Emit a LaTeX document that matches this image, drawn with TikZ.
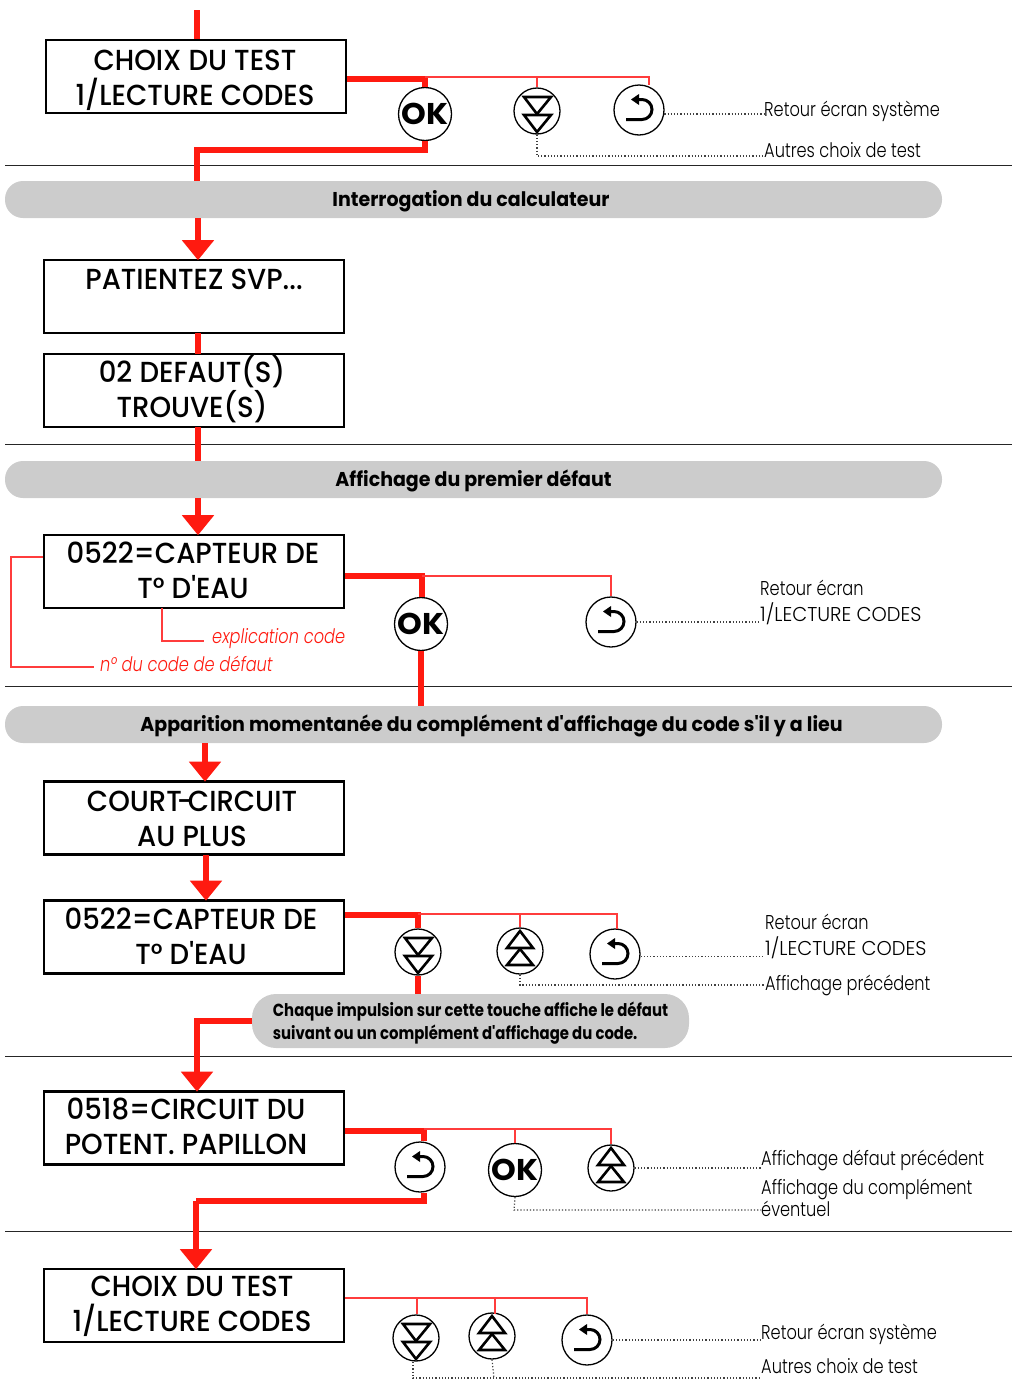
\documentclass[tikz,border=0pt]{standalone}
\usepackage{fontspec}
\setmainfont{Poppins}
\newfontfamily\ecranfont[FakeStretch=0.95,UprightFont=* Medium]{Poppins}
\newfontfamily\bandfont[FakeStretch=0.95,UprightFont=* Bold]{Poppins}
\newfontfamily\notefont[FakeStretch=0.85,UprightFont=* Bold]{Poppins}
\newfontfamily\sidefont[FakeStretch=0.81,UprightFont=* Light,ItalicFont=* Light Italic]{Poppins}
\newfontfamily\capsfont[FakeStretch=0.97,UprightFont=* Light]{Poppins}
\newfontfamily\okfont[FakeStretch=1.05,UprightFont=* Bold]{Poppins}
\usetikzlibrary{arrows.meta,calc}
\definecolor{rouge}{RGB}{255,26,16}
\definecolor{rougeclair}{RGB}{255,60,60}
\definecolor{gris}{RGB}{204,204,204}
\newcommand\DrawEcran[4]{ % name, box centre, text centre, text
  \node[ecran] (#1) at (#2) {};
  \node[ecrantext] (#1text) at (#3) {#4};
}
\newcommand\DrawOK[2]{ % name, centre
  \node[button,minimum size=53pt,font=\okfont\fontsize{30}{30}\selectfont,inner sep=0pt] (#1) at (#2) {OK};
}
\newcommand\DrawDown[2]{
  \node[button,minimum size=46pt] (#1) at (#2) {};
  \draw[glyph,shift={(#2)}] (-13,-14) -- (14,-14) -- (0,3) -- cycle;
  \draw[glyph,shift={(#2)}] (-13,4) -- (14,4) -- (0,21) -- cycle;
}
\newcommand\DrawUp[2]{
  \node[button,minimum size=46pt] (#1) at (#2) {};
  \draw[glyph,shift={(#2)}] (-13,-3) -- (13,-3) -- (0,-20) -- cycle;
  \draw[glyph,shift={(#2)}] (-13,14) -- (13,14) -- (0,-2) -- cycle;
}
\newcommand\DrawBack[2]{
  \node[button,minimum size=50pt] (#1) at (#2) {};
  \draw[glyph,line width=3pt,shift={(#2)}] (-13,9.5) -- (3,9.5) arc (90:-90:10) -- (-3,-10.5);
  \fill[shift={(#2)}] (-8,-10.5) -- (0,-16) -- (0,-5) -- cycle;
}
\tikzset{%
  ecran/.style={draw,line width=2.6pt,minimum width=300pt,minimum height=73pt,inner sep=0pt},
  ecrantext/.style={inner sep=0pt,align=center,text height=55pt,text depth=0pt,
    font=\ecranfont\fontsize{29}{35}\selectfont},
  band/.style={fill=gris,rounded corners=18pt,inner sep=0pt,text height=13pt,text depth=0pt,
    font=\bandfont\fontsize{20}{23}\selectfont},
  button/.style={draw,circle,fill=white,line width=1.3pt},
  glyph/.style={line width=2.6pt,line join=miter},
  redfat/.style={draw=rouge,line width=5.5pt},
  redarrow/.style={redfat,shorten >=-1.5pt,-{Triangle[length=20pt,width=31pt]}},
  redthin/.style={draw=rougeclair,line width=1.3pt},
  dots/.style={draw=black!75,line width=1.2pt,dash pattern=on 1.2pt off 2pt},
  rule/.style={line width=1pt,black!85},
  sidelabel/.style={inner sep=0pt,align=left,anchor=west,font=\sidefont\fontsize{20}{26}\selectfont},
  oneline/.style={sidelabel,text height=14pt,text depth=0pt},
  redlabel/.style={oneline,text=rouge,font=\sidefont\itshape\fontsize{20}{26}\selectfont}
}
\begin{document}
\begin{tikzpicture}[x=1pt,y=-1pt]

\useasboundingbox (0,0) rectangle (1012,1379);

%% separating rules

\foreach \y in {165,444,686,1056,1231}
  \draw[rule] (5,\y) -- (1012,\y);

%% screens

\DrawEcran{choixA}{196,76.5}{195,77.5}{CHOIX DU TEST\\1/LECTURE CODES}
\DrawEcran{patientez}{194,296.5}{194,296.5}{PATIENTEZ SVP...\\\strut}
\DrawEcran{trouve}{194,390.5}{192,389.5}{02 DEFAUT(S)\\TROUVE(S)}
\DrawEcran{capteurA}{194,571.5}{193,570.5}{0522=CAPTEUR DE\\T° D'EAU}
\DrawEcran{court}{194,818}{192,818.5}{COURT\kern-5pt-\kern-5pt CIRCUIT\\AU PLUS}
\DrawEcran{capteurB}{194,937}{191,937}{0522=CAPTEUR DE\\T° D'EAU}
\DrawEcran{circuit}{194,1128}{186,1126.5}{0518=CIRCUIT DU\\POTENT. PAPILLON}
\DrawEcran{choixB}{194,1305.5}{192,1303.5}{CHOIX DU TEST\\1/LECTURE CODES}

%% grey bands

\node[band,minimum width=937pt,minimum height=37pt] (bandA) at (473.5,199.5) {\hspace*{-5pt}Interrogation du calculateur};
\node[band,minimum width=937pt,minimum height=37pt] (bandB) at (473.5,479.5) {Affichage du premier défaut};
\node[band,minimum width=937pt,minimum height=37pt] (bandC) at (473.5,724.5) {\hspace*{36pt}Apparition momentanée du complément d'affichage du code s'il y a lieu};
\node[band,minimum width=437pt,minimum height=54pt,align=left,rounded corners=24pt,text height=36pt,
  font=\notefont\fontsize{17.5}{23}\selectfont] (bandD) at (470.5,1021)
  {Chaque impulsion sur cette touche affiche le défaut\\suivant ou un complément d'affichage du code.};

%% buttons

\DrawOK{okA}{425,114}
\DrawDown{downA}{537,111}
\DrawBack{backA}{639,110}
\DrawOK{okB}{421,624}
\DrawBack{backB}{611,622}
\DrawDown{downB}{418,952}
\DrawUp{upB}{520,951}
\DrawBack{backC}{615,954}
\DrawBack{backD}{420,1167}
\DrawOK{okD}{515,1170}
\DrawUp{upD}{611,1168}
\DrawDown{downE}{416,1338}
\DrawUp{upE}{492,1336}
\DrawBack{backE}{587,1340}

%% side labels

\node[oneline] (retA) at (764,109) {Retour écran système};
\node[oneline] (autA) at (764,150) {Autres choix de test};
\node[sidelabel] (retB) at (760,602) {Retour écran\\{\capsfont 1/LECTURE CODES}};
\node[sidelabel] (retC) at (765,936) {Retour écran\\{\capsfont 1/LECTURE CODES}};
\node[oneline] (precC) at (765,983) {Affichage précédent};
\node[oneline] (precD) at (761,1158) {Affichage défaut précédent};
\node[sidelabel,font=\sidefont\fontsize{20}{22}\selectfont] (compD) at (761,1198) {Affichage du complément\\éventuel};
\node[oneline] (retE) at (761,1332) {Retour écran système};
\node[oneline] (autE) at (761,1366) {Autres choix de test};
\node[redlabel] (explic) at (212,636) {explication code};
\node[redlabel] (numero) at (100,664) {n° du code de défaut};

%% red flow

\coordinate (start) at (197,10);
\coordinate (cornerA) at (425,79);
\coordinate (cornerB) at (425,150);
\draw[redfat] (start) -- (start |- choixA.north);
\draw[redfat] (choixA.east |- cornerA) -- (cornerA) -- (okA.north);
\draw[redfat] (okA.south) -- (cornerB) -- (197,150) -- (197,181);
\draw[redarrow] (198,218) -- (patientez.north -| 198,0);
\draw[redfat] (198,333) -- (198,354);
\draw[redfat] (198,427) -- (198,461);
\draw[redarrow] (198,498) -- (capteurA.north -| 198,0);
\coordinate (cornerC) at (422,576);
\draw[redfat] (capteurA.east |- cornerC) -- (cornerC) -- (cornerC |- okB.north);
\draw[redfat] (okB.south) -- (okB.south |- bandC.north);
\draw[redarrow] (205,743) -- (court.north -| 205,0);
\draw[redarrow] (206,855) -- (capteurB.north -| 206,0);
\coordinate (cornerD) at (418,915);
\draw[redfat] (capteurB.east |- cornerD) -- (cornerD) -- (downB.north);
\draw[redfat] (downB.south) -- (downB.south |- bandD.north);
\coordinate (cornerE) at (197,1021);
\draw[redarrow] (bandD.west) -- (cornerE) -- (cornerE |- circuit.north);
\coordinate (cornerF) at (424,1131);
\coordinate (cornerG) at (424,1201);
\coordinate (cornerH) at (196,1201);
\draw[redfat] (circuit.east |- cornerF) -- (cornerF) -- (cornerF |- backD.north);
\draw[redfat] (cornerF |- backD.south) -- (cornerG) -- (cornerH);
\draw[redarrow] (cornerH) -- (cornerH |- choixB.north);

%% thin red branches

\draw[redthin] (cornerA |- 0,77) -- (649,77) -- (649,85);
\draw[redthin] (downA.north |- 0,77) -- (downA.north);
\draw[redthin] (cornerC) -- (backB.north |- cornerC) -- (backB.north);
\draw[redthin] (cornerD |- 0,914) -- (617,914) -- (617,929);
\draw[redthin] (upB.north |- 0,914) -- (upB.north);
\draw[redthin] (cornerF |- 0,1129) -- (upD.north |- 0,1129) -- (upD.north);
\draw[redthin] (okD.north |- 0,1129) -- (okD.north);
\draw[redthin] (choixB.east |- 0,1298) -- (backE.north |- 0,1298) -- (backE.north);
\draw[redthin] (417,1298) -- (417,1314);
\draw[redthin] (495,1298) -- (495,1314);
\coordinate (numEnd) at (94,667);
\coordinate (explicEnd) at (204,641);
\draw[redthin] (capteurA.west |- 0,557) -- (11,557) -- (11,667) -- (numEnd);
\draw[redthin] (162,608) -- (162,641) -- (explicEnd);

%% dotted leaders

\draw[dots] (backA.-9) -- (backA.-9 -| retA.west);
\draw[dots] (downA.south) -- (537,156) -- (537,156 -| autA.west);
\draw[dots] (backB.0) -- (backB.0 -| retB.west);
\draw[dots] (backC.-5) -- (backC.-5 -| retC.west);
\draw[dots] (upB.south) -- (520,985) -- (520,985 -| precC.west);
\draw[dots] (upD.east) -- (upD.east -| precD.west);
\draw[dots] (okD.south) -- (514,1210) -- (514,1210 -| compD.west);
\draw[dots] (backE.0) -- (backE.0 -| retE.west);
\draw[dots] (413,1362) -- (413,1378) -- (413,1378 -| autE.west);
\draw[dots] (upE.south) -- (494,1378);

\end{tikzpicture}
\end{document}
